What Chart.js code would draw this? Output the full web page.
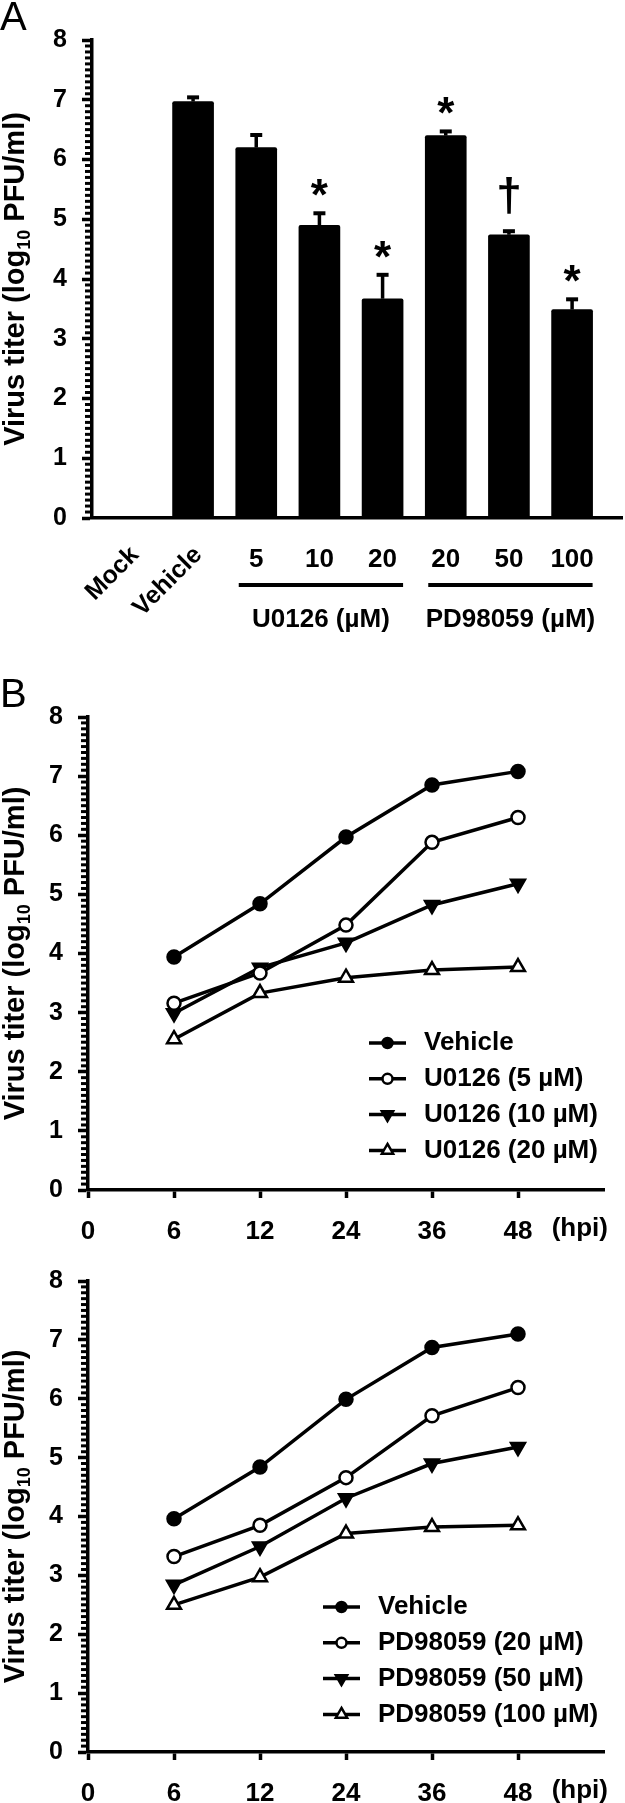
<!DOCTYPE html>
<html>
<head>
<meta charset="utf-8">
<title>Virus titer</title>
<script src="https://cdn.jsdelivr.net/npm/chart.js@4/dist/chart.umd.min.js"></script>
<style>
  html, body { margin: 0; padding: 0; background: #fff; }
  body { width: 625px; height: 1803px; position: relative; overflow: hidden; }
  canvas { position: absolute; left: 0; }
  .tag { position: absolute; left: 0; font: 40px 'Liberation Sans', Arial, sans-serif; line-height: 1; color: #000; }
</style>
</head>
<body>
<canvas id="chartA" style="top:0" width="625" height="660"></canvas>
<canvas id="chartB1" style="top:660px" width="625" height="590"></canvas>
<canvas id="chartB2" style="top:1250px" width="625" height="553"></canvas>
<div class="tag" style="top:-4px">A</div>
<div class="tag" style="top:673px">B</div>

<script>
// ---- panel A: bar chart ----
const groupLabels = ['Mock', 'Vehicle', '5', '10', '20', '20', '50', '100'];
const titerMean = [0, 6.97, 6.20, 4.90, 3.67, 6.40, 4.74, 3.49];
const titerErr = [0, 0.07, 0.21, 0.20, 0.40, 0.07, 0.06, 0.17];
const signifMarks = ['', '', '', '*', '*', '*', '†', '*'];
const drugNames = ['U0126 (µM)', 'PD98059 (µM)'];
const drugFirst = [2, 5];
const drugLast = [4, 7];

// ---- panel B: time courses ----
const hpiLabels = ['0', '6', '12', '24', '36', '48', ''];
const u0126Names = ['Vehicle', 'U0126 (5 µM)', 'U0126 (10 µM)', 'U0126 (20 µM)'];
const u0126Vehicle = [null, 3.94, 4.84, 5.97, 6.85, 7.08];
const u0126Low = [null, 3.16, 3.67, 4.48, 5.88, 6.30];
const u0126Mid = [null, 2.99, 3.76, 4.18, 4.82, 5.18];
const u0126High = [null, 2.55, 3.33, 3.59, 3.72, 3.77];
const pdNames = ['Vehicle', 'PD98059 (20 µM)', 'PD98059 (50 µM)', 'PD98059 (100 µM)'];
const pdVehicle = [null, 3.96, 4.84, 5.99, 6.87, 7.10];
const pdLow = [null, 3.32, 3.85, 4.66, 5.71, 6.19];
const pdMid = [null, 2.84, 3.49, 4.31, 4.90, 5.18];
const pdHigh = [null, 2.50, 2.97, 3.71, 3.82, 3.85];

const yTickValues = [0, 1, 2, 3, 4, 5, 6, 7, 8];

const FONT = "'Liberation Sans', Arial, sans-serif";
const INK = '#000';

// shared helpers
function drawMinorTicks(chart, perUnit, len) {
  const y = chart.scales.y, ctx = chart.ctx;
  ctx.save();
  ctx.strokeStyle = INK;
  ctx.lineWidth = 3;
  const n = (y.max - y.min) * perUnit;
  for (let k = 1; k < n; k++) {
    if (k % perUnit === 0) continue;
    const py = y.getPixelForValue(y.min + k / perUnit);
    ctx.beginPath();
    ctx.moveTo(y.right - len, py);
    ctx.lineTo(y.right, py);
    ctx.stroke();
  }
  ctx.restore();
}

function drawYTitle(chart, baseX) {
  const ctx = chart.ctx, a = chart.chartArea;
  const big = 'bold 29px ' + FONT, small = 'bold 18px ' + FONT;
  const parts = [['Virus titer (log', big, 0], ['10', small, 6], [' PFU/ml)', big, 0]];
  ctx.save();
  let total = 0;
  parts.forEach(p => { ctx.font = p[1]; total += ctx.measureText(p[0]).width; });
  ctx.translate(baseX, (a.top + a.bottom) / 2);
  ctx.rotate(-Math.PI / 2);
  ctx.fillStyle = INK;
  ctx.textAlign = 'left';
  ctx.textBaseline = 'alphabetic';
  let cx = -total / 2;
  parts.forEach(p => {
    ctx.font = p[1];
    ctx.fillText(p[0], cx, p[2]);
    cx += ctx.measureText(p[0]).width;
  });
  ctx.restore();
}

function yAxisOptions(width) {
  return {
    min: 0, max: 8,
    afterBuildTicks: s => { s.ticks = yTickValues.map(v => ({ value: v })); },
    ticks: { font: { family: FONT, size: 25, weight: 'bold' }, color: INK, padding: 15 },
    grid: { drawOnChartArea: false, tickLength: 10, tickWidth: 3.5, tickColor: INK },
    border: { color: INK, width: 3.5 },
    afterFit: s => { s.width = width; }
  };
}

// ---- panel A ----
const barWidth = 41;
const panelAPlugin = {
  id: 'panelA',
  afterDatasetsDraw(chart) {
    const ctx = chart.ctx, x = chart.scales.x, y = chart.scales.y;
    ctx.save();
    ctx.strokeStyle = INK;
    ctx.fillStyle = INK;
    titerMean.forEach((m, i) => {
      const px = x.getPixelForValue(i);
      const top = y.getPixelForValue(m + titerErr[i]);
      if (titerErr[i] > 0) {
        ctx.lineWidth = 3.5;
        ctx.beginPath(); ctx.moveTo(px, y.getPixelForValue(m)); ctx.lineTo(px, top); ctx.stroke();
        ctx.lineWidth = 4;
        ctx.beginPath(); ctx.moveTo(px - 6, top); ctx.lineTo(px + 6, top); ctx.stroke();
      }
      const mark = signifMarks[i];
      if (mark) {
        ctx.font = (mark === '*' ? 'bold 44px ' : 'bold 46px ') + FONT;
        ctx.textAlign = 'center';
        ctx.textBaseline = 'alphabetic';
        const mt = ctx.measureText(mark);
        ctx.fillText(mark, px, top - 17 - mt.actualBoundingBoxDescent);
      }
    });
    ctx.restore();
  },
  afterDraw(chart) {
    const ctx = chart.ctx, x = chart.scales.x, y = chart.scales.y;
    const base = y.bottom;
    drawMinorTicks(chart, 10, 7);
    ctx.save();
    ctx.fillStyle = INK;
    ctx.strokeStyle = INK;
    // category labels
    groupLabels.forEach((lab, i) => {
      const px = x.getPixelForValue(i);
      if (i < 2) {
        ctx.save();
        ctx.font = 'bold 25px ' + FONT;
        ctx.translate(px + 10, base + 38);
        ctx.rotate(-Math.PI / 4);
        ctx.textAlign = 'right';
        ctx.textBaseline = 'alphabetic';
        ctx.fillText(lab, 0, 0);
        ctx.restore();
      } else {
        ctx.font = 'bold 26px ' + FONT;
        ctx.textAlign = 'center';
        ctx.textBaseline = 'alphabetic';
        ctx.fillText(lab, px, base + 49);
      }
    });
    // drug group brackets
    drugNames.forEach((name, g) => {
      const x0 = x.getPixelForValue(drugFirst[g]) - barWidth / 2 + 3;
      const x1 = x.getPixelForValue(drugLast[g]) + barWidth / 2;
      ctx.lineWidth = 4;
      ctx.beginPath(); ctx.moveTo(x0, base + 67); ctx.lineTo(x1, base + 67); ctx.stroke();
      ctx.font = 'bold 26px ' + FONT;
      ctx.textAlign = 'center';
      ctx.textBaseline = 'middle';
      ctx.fillText(name, (x0 + x1) / 2, base + 102);
    });
    ctx.restore();
    drawYTitle(chart, 24);
  }
};

new Chart(document.getElementById('chartA'), {
  type: 'bar',
  data: {
    datasets: [{
      data: titerMean.map((v, i) => ({ x: i, y: v })),
      backgroundColor: INK,
      borderWidth: 0,
      borderRadius: 2,
      barThickness: barWidth
    }]
  },
  options: {
    responsive: false,
    animation: false,
    events: [],
    layout: { padding: { left: 0, top: 40, right: 3, bottom: 0 } },
    plugins: { legend: { display: false }, tooltip: { enabled: false } },
    scales: {
      x: {
        type: 'linear', min: -0.6, max: 7.79, offset: false,
        ticks: { display: false },
        grid: { display: false },
        border: { display: true, color: INK, width: 3.5 },
        afterFit: s => { s.height = 142; }
      },
      y: yAxisOptions(92)
    }
  },
  plugins: [panelAPlugin]
});

// ---- panel B ----
const seriesStyles = [
  { pointStyle: 'circle', rotation: 0, fill: INK, radius: 6.5, legendRadius: 5 },
  { pointStyle: 'circle', rotation: 0, fill: '#fff', radius: 6.5, legendRadius: 5 },
  { pointStyle: 'triangle', rotation: 180, fill: INK, radius: 8, legendRadius: 6.5 },
  { pointStyle: 'triangle', rotation: 0, fill: '#fff', radius: 8, legendRadius: 6.5 }
];

function legendPlugin(names, dx) {
  return {
    id: 'legendBox',
    afterDraw(chart) {
      const ctx = chart.ctx, a = chart.chartArea;
      drawMinorTicks(chart, 10, 7);
      const x = chart.scales.x;
      ctx.save();
      ctx.fillStyle = INK;
      ctx.font = 'bold 26px ' + FONT;
      ctx.textAlign = 'right';
      ctx.textBaseline = 'top';
      ctx.fillText('(hpi)', x.getPixelForValue(hpiLabels.length - 1) + 4, x.top + 26);
      names.forEach((name, i) => {
        const st = seriesStyles[i];
        const lx = a.left + dx, ly = a.top + 326 + i * 35.8;
        ctx.strokeStyle = INK;
        ctx.lineWidth = 3.5;
        ctx.beginPath(); ctx.moveTo(lx, ly); ctx.lineTo(lx + 37, ly); ctx.stroke();
        ctx.fillStyle = st.fill;
        ctx.lineWidth = 2.5;
        Chart.helpers.drawPoint(ctx, { pointStyle: st.pointStyle, rotation: st.rotation, radius: st.legendRadius, borderWidth: 2.5 }, lx + 18.5, ly);
        ctx.fillStyle = INK;
        ctx.textAlign = 'left';
        ctx.textBaseline = 'middle';
        ctx.fillText(name, lx + 55, ly);
      });
      ctx.restore();
      drawYTitle(chart, 24);
    }
  };
}

function makeTimeCourse(id, names, series, padTop, axisHeight, legendDx) {
  new Chart(document.getElementById(id), {
    type: 'line',
    data: {
      labels: hpiLabels,
      datasets: series.map((vals, i) => ({
        label: names[i],
        data: vals,
        borderColor: INK,
        borderWidth: 3.5,
        backgroundColor: seriesStyles[i].fill,
        pointBackgroundColor: seriesStyles[i].fill,
        pointBorderColor: INK,
        pointBorderWidth: 2.5,
        pointStyle: seriesStyles[i].pointStyle,
        pointRotation: seriesStyles[i].rotation,
        pointRadius: seriesStyles[i].radius,
        tension: 0,
        fill: false
      }))
    },
    options: {
      responsive: false,
      animation: false,
      events: [],
      layout: { padding: { left: 0, top: padTop, right: 21, bottom: 0 } },
      plugins: { legend: { display: false }, tooltip: { enabled: false } },
      scales: {
        x: {
          type: 'category', offset: false,
          ticks: { font: { family: FONT, size: 26, weight: 'bold' }, color: INK, padding: 18, autoSkip: false, maxRotation: 0 },
          grid: {
            drawOnChartArea: false, tickLength: 8, tickWidth: 3.5,
            tickColor: c => (c.index === hpiLabels.length - 1 ? 'rgba(0,0,0,0)' : INK)
          },
          border: { color: INK, width: 3.5 },
          afterFit: s => { s.height = axisHeight; }
        },
        y: yAxisOptions(88)
      }
    },
    plugins: [legendPlugin(names, legendDx)]
  });
}

makeTimeCourse('chartB1', u0126Names, [u0126Vehicle, u0126Low, u0126Mid, u0126High], 57, 60, 281);
makeTimeCourse('chartB2', pdNames, [pdVehicle, pdLow, pdMid, pdHigh], 31, 51, 235);
</script>
</body>
</html>
